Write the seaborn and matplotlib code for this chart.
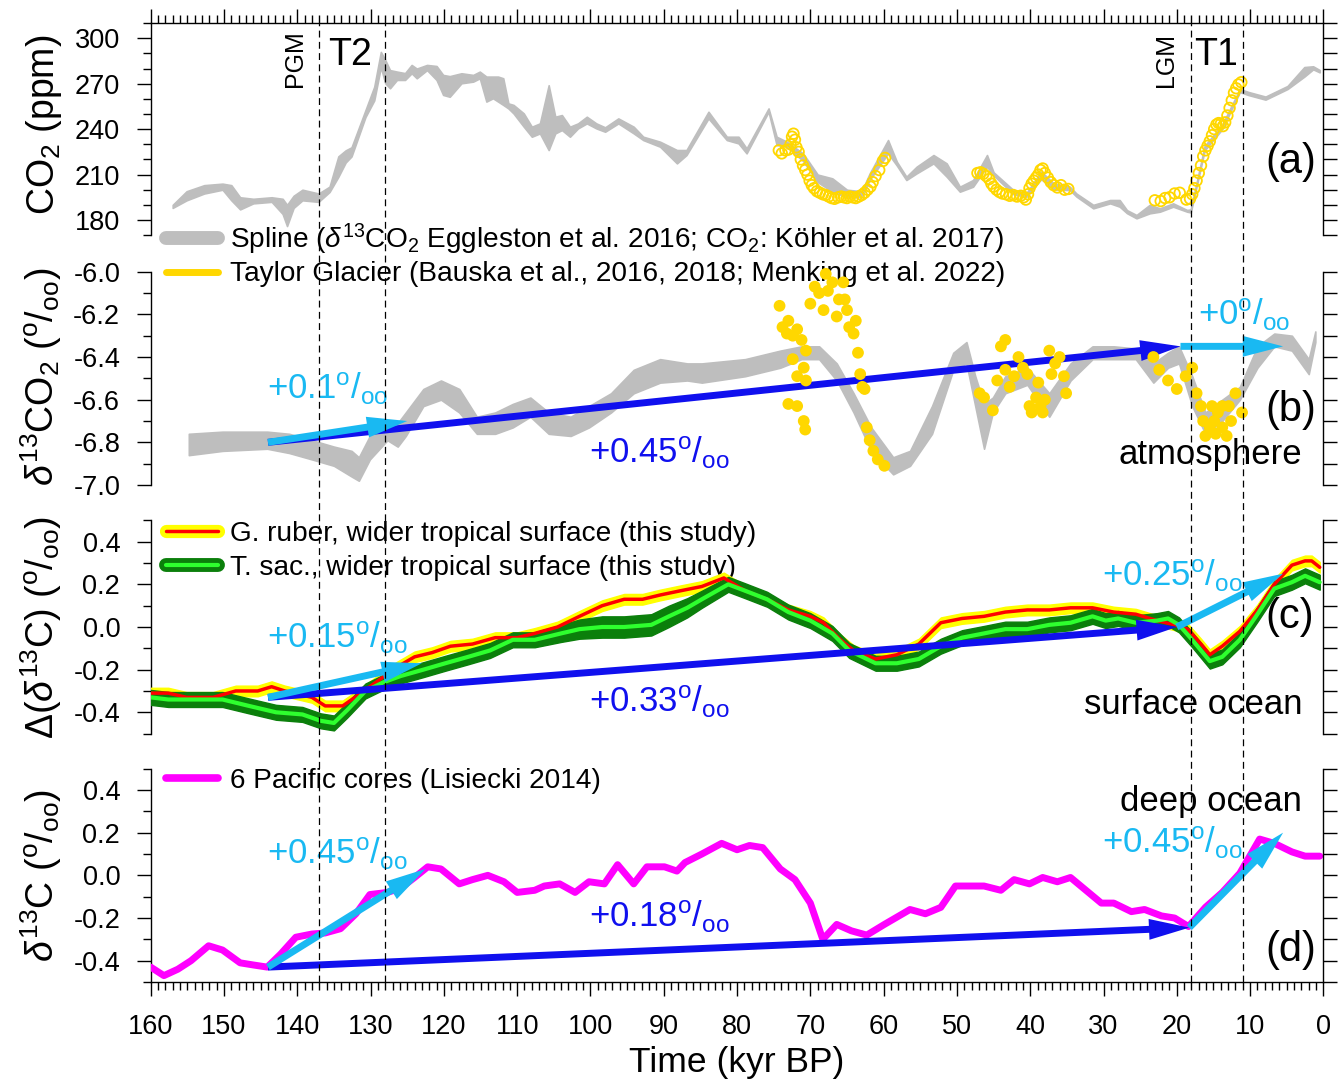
import numpy as np
import matplotlib
matplotlib.use("Agg")
import matplotlib.pyplot as plt
import seaborn as sns
import pandas as pd
from matplotlib.lines import Line2D
from matplotlib.ticker import MultipleLocator, FormatStrFormatter

# ---------------- data ----------------
# (a) CO2 spline band: time (kyr BP), lower, upper (ppm)
co2_band = [(157.0, 188, 190), (155.1, 193, 199), (152.7, 197.5, 203), (150.2, 200, 204),
            (149.0, 193, 203), (147.8, 187, 195), (146.0, 191, 194), (143.5, 192, 195),
            (142.0, 184, 194), (141.4, 176, 190), (140.5, 188, 196), (139.3, 193, 200),
            (137.1, 192, 197.5), (135.6, 198.5, 202), (134.4, 208.5, 222), (133.4, 218, 226),
            (132.6, 222, 228), (130.7, 248, 252.5), (129.5, 259, 268), (128.6, 281, 291),
            (128.0, 270.3, 285.7), (127.35, 267, 279), (126.4, 272.5, 278), (125.3, 272.5, 277),
            (124.4, 276.9, 282.4), (123.7, 273.6, 280), (122.3, 279, 282.4), (121.0, 272.5, 281.7),
            (120.1, 262.6, 275.8), (119.2, 261.4, 275), (117.6, 270.3, 276.9), (116.0, 271.4, 275.8),
            (115.1, 273.6, 278), (114.2, 258.2, 274.7), (113.3, 260.4, 274.7), (112.6, 258.2, 274.7),
            (111.9, 256, 273.6), (111.2, 253.7, 257), (110.5, 250.4, 256), (109.1, 241.6, 250.4),
            (108.0, 235, 241.6), (106.9, 237.2, 243.8), (105.7, 226.2, 269), (104.8, 237.2, 248.2),
            (103.9, 239.4, 249.3), (102.8, 235, 241.6), (101.7, 240.5, 243.8), (100.5, 243.8, 248.2),
            (99.2, 240.5, 243.8), (98.0, 238.3, 241.2), (96.2, 243.8, 247.1), (94.1, 237.2, 241.6),
            (92.8, 232.8, 235), (90.5, 228.4, 231.7), (88.2, 217.4, 226.2), (86.9, 222.9, 226.2),
            (83.9, 247.1, 251.5), (81.4, 232.8, 235), (79.8, 230.6, 235), (78.7, 224, 227.3),
            (75.7, 251.5, 253.7), (74.6, 229.5, 235), (73.2, 228.4, 231.7), (71.0, 219, 224),
            (69.0, 205, 210), (67.0, 198.7, 207.5), (65.0, 195, 200), (63.0, 195, 199),
            (61.9, 206.4, 210.8), (59.4, 224, 232.8), (58.2, 216, 218.5), (56.9, 206.4, 208.6),
            (55.5, 210.8, 215.2), (53.2, 217.4, 222.9), (51.4, 208.6, 217.4), (49.6, 198.7, 202),
            (47.8, 202, 206.4), (45.9, 215.2, 222.9), (45.0, 209.5, 211.5), (42.3, 197, 199.8),
            (40.5, 195.4, 198), (38.5, 207, 212), (36.8, 200, 204.2), (34.6, 199.8, 202),
            (33.7, 195.5, 197.5), (31.4, 187.7, 190), (29.1, 191, 193.2), (27.8, 188.8, 193.2),
            (26.8, 184.5, 186.5), (25.5, 181.1, 183.3), (23.7, 184.4, 190), (22.3, 185.5, 187.7),
            (20.5, 188.8, 191), (18.6, 185.5, 186.6), (18.1, 185, 187), (16.2, 226, 229),
            (13.8, 240, 243), (11.4, 264.5, 266.5), (10.2, 262.5, 264.5), (7.9, 259.5, 261.5),
            (4.9, 266.5, 268.5), (2.6, 274.7, 281), (1.4, 279.5, 281.5), (0.5, 277.5, 279)]

# (a) Taylor Glacier CO2 (open circles)
tg_co2 = [(74.3, 226), (73.9, 224), (73.4, 226), (73.0, 226.5), (72.7, 230), (72.5, 235),
          (72.3, 237), (72.1, 233), (71.9, 228), (71.6, 225), (71.3, 220), (71.0, 216),
          (70.7, 213), (70.4, 210), (70.1, 206), (69.8, 203), (69.5, 201), (69.1, 199),
          (68.7, 198), (68.3, 197), (67.9, 196.5), (67.5, 195.5), (67.1, 194.5), (66.7, 194),
          (66.2, 195), (65.8, 195.5), (65.4, 195), (65.0, 194.5), (64.6, 195.5), (64.2, 195),
          (63.8, 194.5), (63.4, 195.5), (63.0, 196.5), (62.6, 198), (62.2, 200), (61.8, 202),
          (61.5, 205), (61.1, 209), (60.6, 213), (60.1, 219), (59.8, 221),
          (47.2, 211), (46.8, 211.5), (46.4, 210.5), (46.0, 209), (45.6, 207), (45.3, 204),
          (45.0, 202), (44.6, 200), (44.2, 198.5), (43.8, 197.5), (43.3, 197), (42.8, 196),
          (42.3, 196.5), (41.8, 195.5), (41.3, 196), (40.9, 195), (40.6, 193.5), (40.3, 197),
          (40.1, 201), (39.8, 204), (39.5, 206), (39.2, 208), (38.9, 210), (38.6, 213),
          (38.3, 214), (38.0, 211), (37.6, 208), (37.2, 205), (36.8, 203), (36.3, 201.5),
          (35.8, 203), (35.3, 200), (34.8, 200.5),
          (23.0, 193), (22.2, 192.5), (21.6, 194.5), (21.0, 195), (20.3, 197.5), (19.6, 198),
          (18.7, 193.5), (18.2, 194), (17.9, 197), (17.6, 201), (17.3, 206), (17.0, 211),
          (16.7, 216), (16.4, 222), (16.1, 226), (15.8, 229), (15.5, 232), (15.2, 236),
          (14.9, 240), (14.6, 243), (14.3, 244), (14.0, 243.5), (13.7, 242), (13.4, 244.5),
          (13.1, 249), (12.8, 254), (12.5, 259), (12.2, 264), (11.9, 267), (11.6, 269.5),
          (11.2, 271)]

# (b) d13CO2 spline band: time, lower, upper (permil)
d13_band = [(154.8, -6.86, -6.76), (150.2, -6.84, -6.75), (144.1, -6.83, -6.75),
            (141.1, -6.85, -6.76), (138.0, -6.88, -6.79), (135.0, -6.91, -6.82),
            (132.6, -6.96, -6.84), (131.6, -6.98, -6.87), (130.1, -6.88, -6.77),
            (127.7, -6.79, -6.70), (126.3, -6.82, -6.71), (125.2, -6.77, -6.66),
            (122.8, -6.63, -6.55), (120.4, -6.60, -6.51), (117.9, -6.66, -6.55),
            (115.5, -6.76, -6.68), (113.0, -6.76, -6.66), (110.6, -6.73, -6.62),
            (108.2, -6.68, -6.59), (105.7, -6.76, -6.66), (102.7, -6.77, -6.68),
            (100.2, -6.73, -6.63), (97.2, -6.66, -6.57), (94.1, -6.57, -6.46),
            (90.5, -6.52, -6.41), (86.8, -6.51, -6.43), (84.8, -6.52, -6.43),
            (78.9, -6.49, -6.41), (74.1, -6.45, -6.37), (71.2, -6.41, -6.35),
            (68.8, -6.41, -6.35), (66.4, -6.51, -6.43), (64.1, -6.66, -6.57),
            (61.7, -6.84, -6.73), (58.7, -6.95, -6.87), (56.4, -6.91, -6.84),
            (53.4, -6.76, -6.63), (50.5, -6.46, -6.38), (48.7, -6.43, -6.33),
            (47.5, -6.63, -6.49), (46.3, -6.83, -6.62), (45.1, -6.66, -6.59),
            (43.4, -6.57, -6.49), (40.4, -6.53, -6.45), (37.4, -6.68, -6.57),
            (34.5, -6.51, -6.43), (31.5, -6.41, -6.35), (28.6, -6.41, -6.35),
            (25.6, -6.41, -6.36), (23.2, -6.52, -6.43), (21.2, -6.45, -6.38),
            (19.7, -6.43, -6.35), (17.9, -6.63, -6.49), (16.1, -6.76, -6.66),
            (13.8, -6.70, -6.60), (11.4, -6.60, -6.54), (9.0, -6.45, -6.35),
            (6.7, -6.35, -6.29), (4.3, -6.37, -6.30), (2.0, -6.48, -6.41), (1.1, -6.33, -6.28)]

# (b) Taylor Glacier d13CO2 (filled dots)
tg_d13 = [(74.2, -6.16), (73.8, -6.26), (73.0, -6.23), (73.2, -6.29), (72.4, -6.30), (71.8, -6.27),
          (71.2, -6.32), (70.6, -6.37), (72.4, -6.41), (71.8, -6.49), (70.9, -6.45), (70.6, -6.51),
          (73.0, -6.62), (71.8, -6.63), (70.9, -6.70), (70.7, -6.74), (70.0, -6.15), (69.4, -6.07),
          (68.8, -6.10), (68.2, -6.18), (67.9, -6.01), (67.6, -6.09), (67.0, -6.05), (66.4, -6.21),
          (66.1, -6.13), (65.5, -6.05), (65.3, -6.13), (65.0, -6.18), (64.7, -6.26), (64.1, -6.29),
          (63.8, -6.23), (63.5, -6.38), (63.2, -6.48), (62.9, -6.54), (62.6, -6.55), (62.3, -6.73),
          (61.9, -6.79), (61.4, -6.84), (60.8, -6.88), (59.9, -6.91),
          (46.9, -6.57), (46.3, -6.59), (45.1, -6.65), (44.5, -6.51), (44.0, -6.35), (43.4, -6.32),
          (43.4, -6.46), (42.8, -6.54), (42.2, -6.49), (41.6, -6.40), (41.0, -6.45), (40.4, -6.48),
          (40.1, -6.63), (39.8, -6.66), (39.2, -6.59), (38.9, -6.52), (38.6, -6.63), (38.3, -6.66),
          (38.0, -6.60), (37.4, -6.37), (37.1, -6.48), (36.6, -6.43), (36.0, -6.40), (35.4, -6.49),
          (35.1, -6.57),
          (23.2, -6.40), (22.4, -6.46), (21.2, -6.51), (20.0, -6.55), (18.8, -6.49), (17.9, -6.45),
          (17.3, -6.57), (16.7, -6.63), (16.4, -6.70), (16.1, -6.77), (15.5, -6.73), (14.9, -6.70),
          (14.4, -6.66), (13.8, -6.63), (13.2, -6.77), (12.6, -6.70), (12.0, -6.57), (11.1, -6.66),
          (15.2, -6.63), (14.7, -6.76), (13.8, -6.73), (12.9, -6.63)]

# (c) G. ruber: time, value ; uncertainty half width
ruber = [(160, -0.31), (157.6, -0.31), (155.1, -0.33), (151.5, -0.33), (148.4, -0.30), (145.4, -0.30),
         (143.5, -0.28), (141.7, -0.30), (138, -0.33), (136.2, -0.37), (133.8, -0.37), (131.3, -0.31),
         (128.9, -0.25), (126.5, -0.19), (124, -0.14), (121.6, -0.12), (119.1, -0.09), (116.1, -0.08),
         (113, -0.05), (110, -0.05), (107.6, -0.03), (104.5, 0.00), (101.5, 0.05), (98.4, 0.10),
         (95.4, 0.13), (92.9, 0.13), (90.5, 0.15), (87.7, 0.17), (84.8, 0.19), (81.8, 0.23),
         (78.9, 0.17), (75.9, 0.13), (73, 0.08), (70, 0.05), (68.2, 0.02), (65.9, -0.06),
         (64.1, -0.11), (61.1, -0.15), (58.2, -0.13), (55.2, -0.08), (52.2, 0.02), (49.3, 0.04),
         (46.3, 0.05), (43.4, 0.07), (40.4, 0.08), (37.4, 0.08), (34.5, 0.09), (31.5, 0.09),
         (28.6, 0.07), (25.6, 0.06), (22.7, 0.03), (20.3, 0.01), (18.5, -0.01), (16.7, -0.08),
         (15.5, -0.13), (13.8, -0.09), (11.4, -0.02), (9, 0.08), (6.7, 0.20), (4.3, 0.29),
         (2.5, 0.31), (1.6, 0.31), (0.5, 0.28)]
ruber_err = 0.025

# (c) T. sacculifer: time, value, half width
tsac = [(160, -0.33, 0.035), (157.6, -0.34, 0.035), (153.9, -0.34, 0.035), (150.2, -0.34, 0.035),
        (146.6, -0.37, 0.035), (142.9, -0.40, 0.035), (139.3, -0.41, 0.035), (136.8, -0.44, 0.035),
        (135, -0.45, 0.035), (133.2, -0.39, 0.035), (130.7, -0.30, 0.035), (128.3, -0.26, 0.035),
        (125.9, -0.23, 0.035), (122.8, -0.20, 0.035), (119.8, -0.17, 0.035), (116.7, -0.14, 0.035),
        (113.7, -0.11, 0.035), (110.6, -0.06, 0.035), (107.6, -0.06, 0.035), (104, -0.03, 0.04),
        (101.5, -0.01, 0.045), (98.4, 0.00, 0.05), (95.4, 0.00, 0.05), (91.7, 0.01, 0.05),
        (89.3, 0.05, 0.05), (86.8, 0.09, 0.045), (84.8, 0.13, 0.04), (81.2, 0.20, 0.035),
        (78.9, 0.17, 0.035), (75.9, 0.13, 0.035), (73, 0.07, 0.035), (70, 0.03, 0.035),
        (67, -0.03, 0.035), (64.7, -0.11, 0.035), (61.1, -0.17, 0.035), (58.2, -0.17, 0.035),
        (55.2, -0.15, 0.035), (52.2, -0.09, 0.035), (49.3, -0.05, 0.035), (46.3, -0.03, 0.035),
        (43.4, -0.01, 0.035), (40.4, -0.01, 0.035), (37.4, 0.01, 0.035), (34.5, 0.02, 0.035),
        (31.5, 0.05, 0.035), (29.7, 0.03, 0.035), (28, 0.04, 0.035), (25.6, 0.02, 0.035),
        (22.7, 0.03, 0.035), (21.2, 0.04, 0.035), (19.7, 0.01, 0.035), (17.9, -0.06, 0.035),
        (15.5, -0.16, 0.035), (13.8, -0.14, 0.035), (11.4, -0.06, 0.035), (9, 0.06, 0.035),
        (6.7, 0.18, 0.035), (4.3, 0.21, 0.035), (2.5, 0.24, 0.035), (0.5, 0.21, 0.035)]

# (d) 6 Pacific cores (Lisiecki 2014)
pacific = [(160, -0.43), (158.2, -0.47), (156.3, -0.44), (154.5, -0.40), (152.1, -0.33), (150.2, -0.35),
           (147.8, -0.41), (146, -0.42), (144.1, -0.43), (142.3, -0.37), (140.2, -0.29), (138, -0.275),
           (136.2, -0.27), (134.1, -0.25), (132, -0.18), (130.1, -0.09), (127.7, -0.08), (125.9, -0.06),
           (124, -0.01), (122.2, 0.04), (120.4, 0.03), (117.9, -0.04), (116.1, -0.02), (114, 0.00),
           (111.8, -0.03), (110, -0.08), (107.6, -0.07), (106.3, -0.05), (104.2, -0.04), (102.1, -0.08),
           (100.2, -0.03), (98.1, -0.04), (96.3, 0.05), (94.1, -0.04), (92.3, 0.04), (89.9, 0.04),
           (88.2, 0.02), (87.1, 0.06), (84.8, 0.10), (82.1, 0.15), (80, 0.12), (78.3, 0.14),
           (76.5, 0.13), (74.1, 0.03), (72.1, -0.02), (70, -0.13), (68.3, -0.30), (66.4, -0.23),
           (64.4, -0.26), (62.3, -0.28), (59.9, -0.23), (56.4, -0.16), (54.3, -0.18), (52.2, -0.15),
           (50.2, -0.05), (46.3, -0.05), (44, -0.07), (42.2, -0.02), (40.1, -0.04), (38.3, -0.01),
           (36.3, -0.03), (34.5, -0.01), (32.4, -0.07), (30.3, -0.13), (28.6, -0.13), (26.2, -0.17),
           (24.4, -0.16), (22.1, -0.19), (20.3, -0.20), (18.4, -0.24), (16.1, -0.15), (13.8, -0.08),
           (11.4, 0.01), (8.7, 0.17), (6.7, 0.15), (4.3, 0.11), (2.5, 0.09), (0.5, 0.09)]

# PGM, end of T2, LGM, end of T1
events = [137, 128, 18, 11]

# trend arrows (t_start, v_start, t_end, v_end) and their labels
atm_arrows = [(144, -6.80, 19.5, -6.35, 'blue'), (144, -6.80, 125, -6.70, 'sky'), (19.5, -6.35, 5.5, -6.35, 'sky')]
sfc_arrows = [(144, -0.33, 20, 0.00, 'blue'), (144, -0.33, 123, -0.17, 'sky'), (20, 0.00, 5.5, 0.25, 'sky')]
deep_arrows = [(144, -0.43, 18.3, -0.245, 'blue'), (144, -0.43, 122.5, 0.03, 'sky'), (18.3, -0.245, 5.5, 0.20, 'sky')]
atm_labels = [(144.1, -6.60, '+0.1', 'sky'), (100.2, -6.90, '+0.45', 'blue'), (17.1, -6.25, '+0', 'sky')]
sfc_labels = [(144.1, -0.10, '+0.15', 'sky'), (100.2, -0.40, '+0.33', 'blue'), (30.2, 0.19, '+0.25', 'sky')]
deep_labels = [(144.1, 0.05, '+0.45', 'sky'), (100.2, -0.245, '+0.18', 'blue'), (30.2, 0.105, '+0.45', 'sky')]

# ---------------- style ----------------
sns.set_theme(style='ticks')
plt.rcParams.update({
    'font.family': ['Liberation Sans', 'DejaVu Sans'],
    'mathtext.fontset': 'custom',
    'mathtext.rm': 'Liberation Sans',
    'mathtext.it': 'Liberation Sans:italic',
    'mathtext.bf': 'Liberation Sans:bold',
    'axes.unicode_minus': False,
    'text.color': 'black', 'axes.labelcolor': 'black',
    'axes.edgecolor': 'black', 'xtick.color': 'black', 'ytick.color': 'black',
    'axes.linewidth': 1.0,
})

GRAY, GOLD = '#BEBEBE', '#FFD700'
COLORS = {'blue': '#1010EE', 'sky': '#19B9F2'}
PERMIL = r'$^{\mathrm{o}}$/$_{\mathrm{oo}}$'
LEG_FS = 20.2

W, H = 1340, 1081
X0, X1 = 150.7, 1323.4
fig = plt.figure(figsize=(W / 100, H / 100), dpi=100)


def add_panel(ylo, yhi, v1, p1, v2, p2):
    ppu = (p2 - p1) / (v1 - v2)
    top = p1 - (yhi - v1) * ppu
    bot = p1 + (v1 - ylo) * ppu
    ax = fig.add_axes([X0 / W, 1 - bot / H, (X1 - X0) / W, (bot - top) / H])
    ax.patch.set_alpha(0)
    return ax


def frame(ax, ylim, lo, hi, major, minor, fmt, label, yc):
    ax.set_xlim(160, 0)
    ax.set_ylim(*ylim)
    for s in ('top', 'bottom', 'right'):
        ax.spines[s].set_visible(False)
    ax.spines['left'].set_bounds(lo, hi)
    ax.yaxis.set_major_locator(MultipleLocator(major))
    ax.yaxis.set_minor_locator(MultipleLocator(minor))
    ax.yaxis.set_major_formatter(FormatStrFormatter(fmt))
    ax.tick_params(axis='y', which='major', direction='out', length=10, width=1, labelsize=19.5, pad=12)
    ax.tick_params(axis='y', which='minor', direction='out', length=5.5, width=1)
    ax.tick_params(axis='x', which='both', bottom=False, top=False, labelbottom=False)
    ax.set_xlabel('')
    ax.set_ylabel(label, fontsize=27)
    ax.yaxis.set_label_coords(64 / W, 1 - yc / H, transform=fig.transFigure)
    rt = ax.twinx()
    rt.set_ylim(*ylim)
    for s in ('top', 'bottom', 'left'):
        rt.spines[s].set_visible(False)
    rt.spines['right'].set_bounds(lo, hi)
    rt.yaxis.set_major_locator(MultipleLocator(minor))
    rt.tick_params(axis='y', direction='out', length=10, width=1, labelright=False)


def arrows(ax, segs):
    for t0, v0, t1, v1, c in segs:
        ax.annotate('', xy=(t1, v1), xytext=(t0, v0), zorder=8,
                    arrowprops=dict(arrowstyle='simple,head_length=2.9,head_width=1.5,tail_width=0.5',
                                    mutation_scale=10, fc=COLORS[c], ec=COLORS[c], lw=0,
                                    shrinkA=0, shrinkB=0))


def trend_labels(ax, labs):
    for t, v, s, c in labs:
        ax.text(t, v, s + PERMIL, color=COLORS[c], fontsize=25, ha='left', va='baseline', zorder=9)


# ---------------- (a) CO2 ----------------
ax_a = add_panel(170, 310, 300, 38.3, 180, 220)
co2 = pd.DataFrame(co2_band, columns=['t', 'lo', 'hi'])
ax_a.fill_between(co2['t'], co2['lo'], co2['hi'], color=GRAY, lw=1.2, zorder=2)
tgc = pd.DataFrame(tg_co2, columns=['t', 'co2'])
sns.scatterplot(data=tgc, x='t', y='co2', ax=ax_a, marker='o', s=58, facecolors='none',
                edgecolor=GOLD, linewidth=1.3, zorder=4)
frame(ax_a, (170, 310), 170, 310, 30, 10, '%d', r'CO$_2$ (ppm)', 125)
ax_a.spines['top'].set_visible(True)
ax_a.xaxis.set_major_locator(MultipleLocator(10))
ax_a.xaxis.set_minor_locator(MultipleLocator(1))
ax_a.tick_params(axis='x', which='both', top=True, labeltop=False, direction='out', width=1)
ax_a.tick_params(axis='x', which='major', length=10)
ax_a.tick_params(axis='x', which='minor', length=5.5)
ax_a.text(1265 / W, 1 - 162.5 / H, '(a)', transform=fig.transFigure, fontsize=30, va='center')
ax_a.text(135.8, 282.4, 'T2', fontsize=27, ha='left', va='baseline')
ax_a.text(17.7, 282.4, 'T1', fontsize=27, ha='left', va='baseline')
ax_a.text(140.3, 268, 'PGM', fontsize=18, rotation=90, ha='center', va='bottom')
ax_a.text(21.5, 268, 'LGM', fontsize=18, rotation=90, ha='center', va='bottom')

# ---------------- (b) d13CO2 ----------------
ax_b = add_panel(-7.08, -5.95, -6.0, 271.7, -7.0, 485)
d13 = pd.DataFrame(d13_band, columns=['t', 'lo', 'hi'])
ax_b.fill_between(d13['t'], d13['lo'], d13['hi'], color=GRAY, lw=1.2, zorder=2)
arrows(ax_b, atm_arrows)
tgd = pd.DataFrame(tg_d13, columns=['t', 'd13'])
sns.scatterplot(data=tgd, x='t', y='d13', ax=ax_b, marker='o', s=72, color=GOLD,
                edgecolor='none', linewidth=0, zorder=10)
frame(ax_b, (-7.08, -5.95), -7.0, -6.0, 0.2, 0.1, '%.1f',
      r'$\delta^{13}$CO$_2$ (' + PERMIL + ')', 377)
trend_labels(ax_b, atm_labels)
ax_b.text(2.9, -6.90, 'atmosphere', fontsize=25, ha='right', va='baseline')
ax_b.text(1265 / W, 1 - 410 / H, '(b)', transform=fig.transFigure, fontsize=30, va='center')
ax_b.legend(handles=[Line2D([], [], color=GRAY, lw=10), Line2D([], [], color=GOLD, lw=5)],
            labels=[r'Spline ($\delta^{13}$CO$_2$ Eggleston et al. 2016; CO$_2$: Köhler et al. 2017)',
                    'Taylor Glacier (Bauska et al., 2016, 2018; Menking et al. 2022)'],
            loc='upper left', bbox_to_anchor=(166 / W, 1 - 221.5 / H), bbox_transform=fig.transFigure,
            frameon=False, fontsize=LEG_FS, handlelength=1.86, handletextpad=0.42,
            borderpad=0, borderaxespad=0, labelspacing=0.17)

# ---------------- (c) surface ocean ----------------
ax_c = add_panel(-0.52, 0.52, 0.4, 541.7, -0.4, 712.3)
rb = pd.DataFrame(ruber, columns=['t', 'v'])
ts = pd.DataFrame(tsac, columns=['t', 'v', 'e'])
ax_c.fill_between(rb['t'], rb['v'] - ruber_err, rb['v'] + ruber_err, color='#FFFF00', lw=1, zorder=6)
ax_c.fill_between(ts['t'], ts['v'] - ts['e'], ts['v'] + ts['e'], color='#0B7F0B', lw=1, zorder=6.2)
sns.lineplot(data=rb, x='t', y='v', ax=ax_c, color='#FF0000', lw=2.5, sort=False, estimator=None, zorder=6.4)
sns.lineplot(data=ts, x='t', y='v', ax=ax_c, color='#2EFF2E', lw=3, sort=False, estimator=None, zorder=6.6)
arrows(ax_c, sfc_arrows)
frame(ax_c, (-0.52, 0.52), -0.5, 0.5, 0.2, 0.1, '%.1f',
      r'$\Delta$($\delta^{13}$C) (' + PERMIL + ')', 627)
trend_labels(ax_c, sfc_labels)
ax_c.text(2.9, -0.41, 'surface ocean', fontsize=25, ha='right', va='baseline')
ax_c.text(1265 / W, 1 - 616.7 / H, '(c)', transform=fig.transFigure, fontsize=30, va='center')
ax_c.legend(handles=[(Line2D([], [], color='#FFFF00', lw=9.5), Line2D([], [], color='#FF0000', lw=2.5)),
                     (Line2D([], [], color='#0B7F0B', lw=10), Line2D([], [], color='#2EFF2E', lw=3))],
            labels=['G. ruber, wider tropical surface (this study)',
                    'T. sac., wider tropical surface (this study)'],
            loc='upper left', bbox_to_anchor=(166 / W, 1 - 521 / H), bbox_transform=fig.transFigure,
            frameon=False, fontsize=LEG_FS, handlelength=1.86, handletextpad=0.42,
            borderpad=0, borderaxespad=0, labelspacing=0.28)

# ---------------- (d) deep ocean ----------------
ax_d = add_panel(-0.5, 0.5, 0.4, 790, -0.4, 960.7)
pc = pd.DataFrame(pacific, columns=['t', 'v'])
sns.lineplot(data=pc, x='t', y='v', ax=ax_d, color='#FF00FF', lw=5, sort=False, estimator=None, zorder=3)
arrows(ax_d, deep_arrows)
frame(ax_d, (-0.5, 0.5), -0.5, 0.5, 0.2, 0.1, '%.1f',
      r'$\delta^{13}$C (' + PERMIL + ')', 875)
trend_labels(ax_d, deep_labels)
ax_d.text(2.9, 0.30, 'deep ocean', fontsize=25, ha='right', va='baseline')
ax_d.text(1265 / W, 1 - 950 / H, '(d)', transform=fig.transFigure, fontsize=30, va='center')
ax_d.legend(handles=[Line2D([], [], color='#FF00FF', lw=5.5)],
            labels=['6 Pacific cores (Lisiecki 2014)'],
            loc='upper left', bbox_to_anchor=(166 / W, 1 - 767.5 / H), bbox_transform=fig.transFigure,
            frameon=False, fontsize=LEG_FS, handlelength=1.86, handletextpad=0.42,
            borderpad=0, borderaxespad=0)
ax_d.spines['bottom'].set_visible(True)
ax_d.xaxis.set_major_locator(MultipleLocator(10))
ax_d.xaxis.set_minor_locator(MultipleLocator(1))
ax_d.xaxis.set_major_formatter(FormatStrFormatter('%d'))
ax_d.tick_params(axis='x', which='both', bottom=True, labelbottom=True, direction='out', width=1)
ax_d.tick_params(axis='x', which='major', length=10, labelsize=19.5, pad=13)
ax_d.tick_params(axis='x', which='minor', length=5.5)
ax_d.set_xlabel('Time (kyr BP)', fontsize=25.5)
ax_d.xaxis.set_label_coords((X0 + X1) / 2 / W, 1 - 1046 / H, transform=fig.transFigure)

# ---------------- dashed event lines over all panels ----------------
ov = fig.add_axes([X0 / W, 1 - 981.7 / H, (X1 - X0) / W, (981.7 - 23.2) / H])
ov.set_xlim(160, 0)
ov.set_ylim(0, 1)
ov.axis('off')
ov.set_zorder(20)
for t in events:
    ov.axvline(t, color='black', lw=0.9, ls=(0, (5.5, 3.5)))

fig.savefig('out.png', dpi=100)
